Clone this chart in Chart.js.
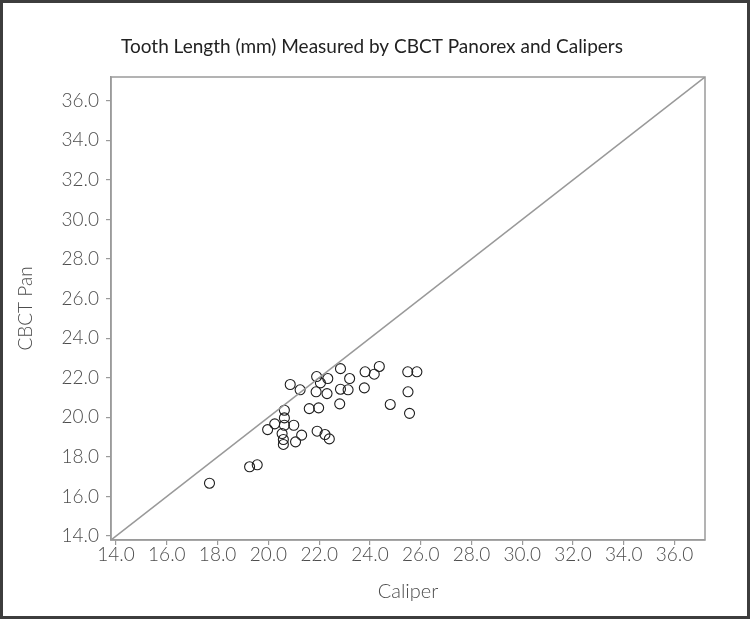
<!DOCTYPE html>
<html>
<head>
<meta charset="utf-8">
<title>Tooth Length (mm) Measured by CBCT Panorex and Calipers</title>
<script src="https://cdn.jsdelivr.net/npm/chart.js@4"></script>
<style>
  html, body { margin: 0; padding: 0; background: #fff; }
  canvas { display: block; }
</style>
</head>
<body>
<canvas id="scatterChart" width="750" height="619" style="width:750px;height:619px"></canvas>
<script>
// tooth lengths (mm)
const caliper = [
    17.68, 19.26, 19.56, 19.97, 20.25, 20.86, 21.25, 20.63, 20.63, 20.63,
    21.00, 20.54, 20.59, 20.59, 21.07, 21.31, 21.90, 22.05, 22.34, 21.88,
    22.31, 21.61, 21.98, 21.92, 22.23, 22.40, 22.84, 23.20, 22.84, 23.14,
    22.81, 23.81, 24.17, 24.37, 23.78, 24.80, 25.49, 25.85, 25.50, 25.56
];
const cbctPan = [
    16.67, 17.50, 17.60, 19.38, 19.67, 21.66, 21.39, 20.36, 19.97, 19.60,
    19.60, 19.18, 18.88, 18.63, 18.76, 19.10, 22.06, 21.74, 21.96, 21.29,
    21.20, 20.44, 20.48, 19.30, 19.13, 18.91, 22.46, 21.96, 21.42, 21.39,
    20.68, 22.30, 22.18, 22.57, 21.49, 20.65, 22.30, 22.30, 21.29, 20.20
];
const tickValues = [14, 16, 18, 20, 22, 24, 26, 28, 30, 32, 34, 36];
const axisRange = [13.8, 37.2];

const fontName = "Lato, 'Open Sans', sans-serif";

// box round the plot area and dark frame round the picture
const framePlugin = {
    id: 'frames',
    beforeDraw(chart) {
        const ctx = chart.ctx;
        ctx.save();
        ctx.fillStyle = '#fff';
        ctx.fillRect(0, 0, chart.width, chart.height);
        ctx.restore();
    },
    afterDraw(chart) {
        const ctx = chart.ctx;
        const a = chart.chartArea;
        ctx.save();
        ctx.strokeStyle = '#9a9a9a';
        ctx.lineWidth = 1.5;
        ctx.strokeRect(a.left, a.top, a.right - a.left, a.bottom - a.top);
        ctx.strokeStyle = '#3d3d3d';
        ctx.lineWidth = 6;
        ctx.strokeRect(0, 0, chart.width, chart.height);
        ctx.restore();
    }
};

function setTicks(scale) {
    scale.ticks = tickValues.map(v => ({ value: v }));
}

const ctx = document.getElementById('scatterChart').getContext('2d');
new Chart(ctx, {
    type: 'scatter',
    data: {
        datasets: [{
            type: 'line',
            data: axisRange.map(v => ({ x: v, y: v })),
            borderColor: '#999',
            borderWidth: 1.5,
            pointRadius: 0,
            fill: false
        }, {
            data: caliper.map((c, i) => ({ x: c, y: cbctPan[i] })),
            pointStyle: 'circle',
            pointRadius: 5,
            borderColor: '#1e1e1e',
            borderWidth: 1.1,
            backgroundColor: 'rgba(0,0,0,0)'
        }]
    },
    options: {
        responsive: false,
        animation: false,
        layout: { padding: { left: 0, right: 6, top: 0, bottom: 0 } },
        plugins: {
            legend: { display: false },
            tooltip: { enabled: false },
            title: {
                display: true,
                text: 'Tooth Length (mm) Measured by CBCT Panorex and Calipers',
                color: '#222',
                font: { family: fontName, size: 19, weight: 'normal' },
                padding: { top: 35.6, bottom: 18.6 }
            }
        },
        scales: {
            x: {
                type: 'linear',
                min: axisRange[0],
                max: axisRange[1],
                afterBuildTicks: setTicks,
                afterFit: (scale) => { scale.height = 79; },
                border: { display: true, color: '#9a9a9a', width: 1.5 },
                grid: { drawOnChartArea: false, drawTicks: true, tickLength: 5, color: '#9a9a9a', lineWidth: 1.2 },
                ticks: {
                    color: '#4d4d4d',
                    padding: -2,
                    maxRotation: 0,
                    font: { family: fontName, size: 19, weight: '300' },
                    callback: (v) => Number(v).toFixed(1)
                },
                title: {
                    display: true,
                    text: 'Caliper',
                    color: '#4d4d4d',
                    font: { family: fontName, size: 20, weight: '300' },
                    padding: { top: 0, bottom: 15 }
                }
            },
            y: {
                type: 'linear',
                min: axisRange[0],
                max: axisRange[1],
                afterBuildTicks: setTicks,
                afterFit: (scale) => { scale.width = 111; },
                border: { display: true, color: '#9a9a9a', width: 1.5 },
                grid: { drawOnChartArea: false, drawTicks: true, tickLength: 5, color: '#9a9a9a', lineWidth: 1.2 },
                ticks: {
                    color: '#4d4d4d',
                    padding: 7,
                    font: { family: fontName, size: 19, weight: '300' },
                    callback: (v) => Number(v).toFixed(1)
                },
                title: {
                    display: true,
                    text: 'CBCT Pan',
                    color: '#4d4d4d',
                    font: { family: fontName, size: 19, weight: '300' },
                    padding: { top: 14, bottom: 0 }
                }
            },
            // empty right-hand axis, only keeps the margin right of the plot
            yRight: {
                type: 'linear',
                position: 'right',
                min: axisRange[0],
                max: axisRange[1],
                afterFit: (scale) => { scale.width = 39; },
                border: { display: false },
                grid: { display: false },
                ticks: { display: false }
            }
        }
    },
    plugins: [framePlugin]
});
</script>
</body>
</html>
